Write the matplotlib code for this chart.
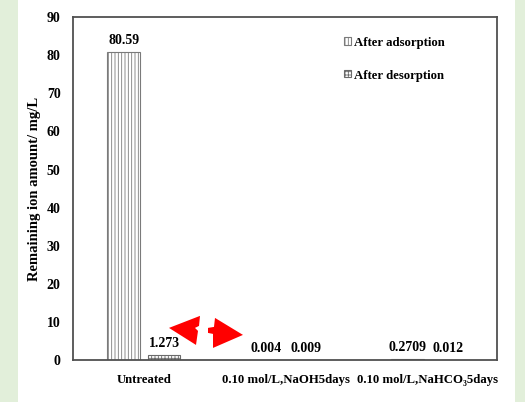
import numpy as np
import matplotlib
matplotlib.use('Agg')
import matplotlib.pyplot as plt
from matplotlib.patches import Rectangle, Polygon

# Remaining ion amount (mg/L) after adsorption / desorption
categories = ['Untreated', '0.10 mol/L,NaOH5days', '0.10 mol/L,NaHCO\u20835days']
after_adsorption = [80.59, 0.004, 0.2709]
after_desorption = [1.273, 0.009, 0.012]
adsorption_labels = ['80.59', '0.004', '0.2709']
desorption_labels = ['1.273', '0.009', '0.012']
yticks = [0, 10, 20, 30, 40, 50, 60, 70, 80, 90]

plt.rcParams['font.family'] = ['Liberation Serif', 'DejaVu Serif']
plt.rcParams['font.weight'] = 'bold'
plt.rcParams['hatch.linewidth'] = 0.6

fig = plt.figure(figsize=(5.25, 4.025), dpi=100)
fig.patch.set_facecolor('#e2efda')
# white page area
fig.patches.append(Rectangle((18 / 525, 0), (515 - 18) / 525, 1,
                             transform=fig.transFigure, facecolor='white',
                             edgecolor='none', zorder=-5))

ax = fig.add_axes([73 / 525, 1 - 360 / 402, (497 - 73) / 525, (360 - 17) / 402])
ax.set_facecolor('white')

x = np.arange(len(categories))
w = 0.23
off = 0.142
b1 = ax.bar(x - off, after_adsorption, w, facecolor='white', edgecolor='#7a7a7a',
            hatch='|||||', linewidth=0.8, label='After adsorption')
b2 = ax.bar(x + off, after_desorption, w, facecolor='white', edgecolor='#6a6a6a',
            hatch='+++++', linewidth=0.8, label='After desorption')

for xi, v, t in zip(x - off, after_adsorption, adsorption_labels):
    ax.annotate(t, (xi, v), xytext=(0, 4), textcoords='offset points',
                ha='center', va='bottom', fontsize=10, fontweight='bold')
for xi, v, t in zip(x + off, after_desorption, desorption_labels):
    ax.annotate(t, (xi, v), xytext=(0, 4), textcoords='offset points',
                ha='center', va='bottom', fontsize=10, fontweight='bold')

ax.set_xlim(-0.5, 2.49)
ax.set_ylim(0, 90)
ax.set_yticks(yticks)
ax.set_xticks(x)
ax.set_xticklabels(categories, fontsize=9.2, fontweight='bold')
ax.tick_params(axis='y', length=0, labelsize=10, pad=9)
ax.tick_params(axis='x', length=0, pad=10)
for lbl in ax.get_yticklabels():
    lbl.set_fontweight('bold')
for s in ax.spines.values():
    s.set_color('#505050')
    s.set_linewidth(1.3)

ax.set_ylabel('Remaining ion amount/ mg/L', fontsize=10.5, fontweight='bold', labelpad=4)

leg = ax.legend(loc='upper right', bbox_to_anchor=(0.905, 0.975), frameon=False,
                fontsize=9.2, handlelength=0.5, handleheight=0.5,
                handletextpad=0.3, labelspacing=1.6)

# red arrows between the groups
left_arrow = Polygon([(0.2264, 0.0933), (0.2995, 0.1283), (0.2972, 0.0991),
                      (0.2877, 0.0933), (0.2948, 0.0845), (0.2901, 0.0437)],
                     closed=True, transform=ax.transAxes,
                     facecolor='#ff0000', edgecolor='none')
right_arrow = Polygon([(0.4009, 0.0729), (0.3349, 0.1224), (0.3325, 0.0962),
                       (0.3184, 0.0933), (0.3184, 0.0787), (0.3302, 0.0758),
                       (0.3302, 0.0350)],
                      closed=True, transform=ax.transAxes,
                      facecolor='#ff0000', edgecolor='none')
ax.add_patch(left_arrow)
ax.add_patch(right_arrow)

fig.savefig('out.png', dpi=100, facecolor=fig.get_facecolor())
